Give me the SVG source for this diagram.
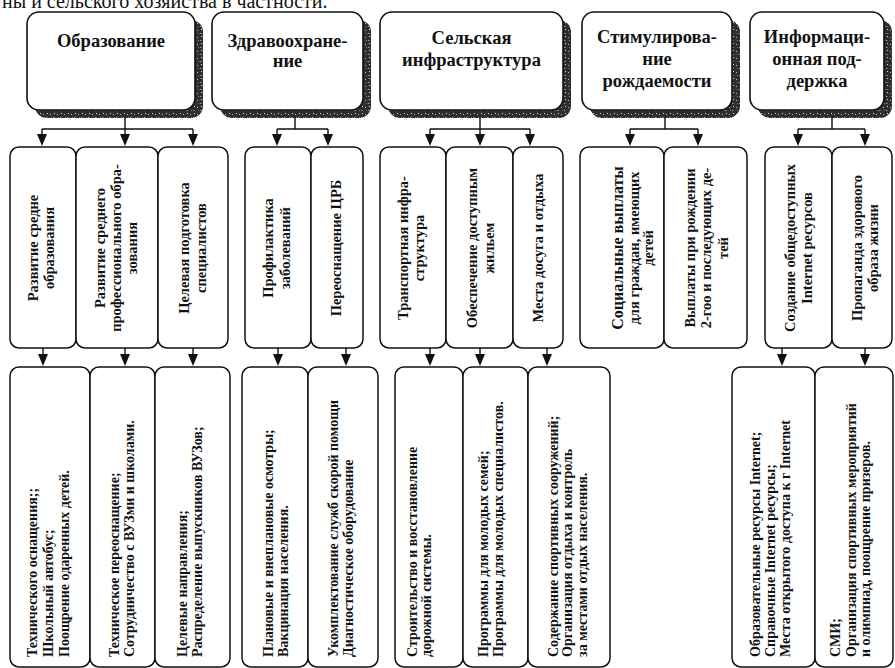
<svg xmlns="http://www.w3.org/2000/svg" width="895" height="668" viewBox="0 0 895 668">
<style>
  text { font-family: "Liberation Serif", "DejaVu Serif", serif; fill: #111; }
  .hdr { font-size: 18.5px; font-weight: bold; text-anchor: middle; }
  .l2 { font-size: 14.5px; font-weight: bold; text-anchor: middle; }
  .l3 { font-size: 14px; font-weight: bold; text-anchor: start; }
  .top { fill: #fff; stroke: #111; stroke-width: 1.6; }
  .shadow { fill: url(#speckle); }
  .box { fill: #fff; stroke: #111; stroke-width: 1.5; }
  .conn line { stroke: #111; stroke-width: 1.4; }
  .conn polygon { fill: #111; }
  .intro { font-size: 20px; }
</style>
<defs>
  <pattern id="speckle" width="7" height="7" patternUnits="userSpaceOnUse">
    <rect width="7" height="7" fill="#2e2e2e"/>
    <rect x="1" y="2" width="1" height="1" fill="#bbb"/>
    <rect x="4" y="5" width="1.5" height="1" fill="#999"/>
    <rect x="5" y="1" width="1" height="1" fill="#ddd"/>
    <rect x="2" y="5" width="1" height="1" fill="#777"/>
  </pattern>
</defs>

<g font-family="Liberation Serif, DejaVu Serif, serif">
<text class="intro" x="2" y="8">ны и сельского хозяйства в частности.</text>

<!-- top-level nodes -->
<g id="t1">
  <rect class="shadow" x="35" y="20" width="168" height="98" rx="12"/>
  <rect class="top" x="27" y="12" width="168" height="98" rx="12"/>
  <text class="hdr" x="111" y="47">Образование</text>
</g>
<g id="t2">
  <rect class="shadow" x="220" y="20" width="151" height="98" rx="12"/>
  <rect class="top" x="212" y="12" width="151" height="98" rx="12"/>
  <text class="hdr" x="287.5" y="47">Здравоохране-</text>
  <text class="hdr" x="287.5" y="67">ние</text>
</g>
<g id="t3">
  <rect class="shadow" x="388" y="20" width="183" height="98" rx="12"/>
  <rect class="top" x="380" y="12" width="183" height="98" rx="12"/>
  <text class="hdr" x="471.5" y="44">Сельская</text>
  <text class="hdr" x="471.5" y="66">инфраструктура</text>
</g>
<g id="t4">
  <rect class="shadow" x="590" y="20" width="150" height="98" rx="12"/>
  <rect class="top" x="582" y="12" width="150" height="98" rx="12"/>
  <text class="hdr" x="657" y="43">Стимулирова-</text>
  <text class="hdr" x="657" y="65">ние</text>
  <text class="hdr" x="657" y="87">рождаемости</text>
</g>
<g id="t5">
  <rect class="shadow" x="758" y="20" width="134" height="98" rx="12"/>
  <rect class="top" x="750" y="12" width="134" height="98" rx="12"/>
  <text class="hdr" x="817" y="43">Информаци-</text>
  <text class="hdr" x="817" y="65">онная под-</text>
  <text class="hdr" x="817" y="87">держка</text>
</g>

<!-- connectors -->
<g id="connectors" class="conn">
  <line x1="125" y1="117" x2="125" y2="129"/>
  <line x1="42" y1="129" x2="193" y2="129"/>
  <line x1="295" y1="117" x2="295" y2="129"/>
  <line x1="277" y1="129" x2="328" y2="129"/>
  <line x1="480" y1="117" x2="480" y2="129"/>
  <line x1="430" y1="129" x2="530" y2="129"/>
  <line x1="665" y1="117" x2="665" y2="129"/>
  <line x1="630" y1="129" x2="698" y2="129"/>
  <line x1="832" y1="117" x2="832" y2="129"/>
  <line x1="798" y1="129" x2="865" y2="129"/>
  <line x1="42" y1="129" x2="42" y2="136"/><polygon points="37,134 47,134 42,146"/>
  <line x1="125" y1="129" x2="125" y2="136"/><polygon points="120,134 130,134 125,146"/>
  <line x1="193" y1="129" x2="193" y2="136"/><polygon points="188,134 198,134 193,146"/>
  <line x1="277" y1="129" x2="277" y2="136"/><polygon points="272,134 282,134 277,146"/>
  <line x1="328" y1="129" x2="328" y2="136"/><polygon points="323,134 333,134 328,146"/>
  <line x1="430" y1="129" x2="430" y2="136"/><polygon points="425,134 435,134 430,146"/>
  <line x1="480" y1="129" x2="480" y2="136"/><polygon points="475,134 485,134 480,146"/>
  <line x1="530" y1="129" x2="530" y2="136"/><polygon points="525,134 535,134 530,146"/>
  <line x1="630" y1="129" x2="630" y2="136"/><polygon points="625,134 635,134 630,146"/>
  <line x1="698" y1="129" x2="698" y2="136"/><polygon points="693,134 703,134 698,146"/>
  <line x1="798" y1="129" x2="798" y2="136"/><polygon points="793,134 803,134 798,146"/>
  <line x1="865" y1="129" x2="865" y2="136"/><polygon points="860,134 870,134 865,146"/>
  <line x1="43" y1="348" x2="43" y2="356"/><polygon points="38,354 48,354 43,366"/>
  <line x1="125" y1="348" x2="125" y2="356"/><polygon points="120,354 130,354 125,366"/>
  <line x1="193" y1="348" x2="193" y2="356"/><polygon points="188,354 198,354 193,366"/>
  <line x1="278" y1="348" x2="278" y2="356"/><polygon points="273,354 283,354 278,366"/>
  <line x1="346" y1="348" x2="346" y2="356"/><polygon points="341,354 351,354 346,366"/>
  <line x1="430" y1="348" x2="430" y2="356"/><polygon points="425,354 435,354 430,366"/>
  <line x1="480" y1="348" x2="480" y2="356"/><polygon points="475,354 485,354 480,366"/>
  <line x1="547" y1="348" x2="547" y2="356"/><polygon points="542,354 552,354 547,366"/>
  <line x1="782" y1="348" x2="782" y2="356"/><polygon points="777,354 787,354 782,366"/>
  <line x1="865" y1="348" x2="865" y2="356"/><polygon points="860,354 870,354 865,366"/>
</g>

<!-- level 2 nodes -->
<g id="n2a"><rect class="box" x="10" y="147" width="66" height="201" rx="9"/>
  <text class="l2" transform="translate(38,248) rotate(-90)">Развитие средне</text>
  <text class="l2" transform="translate(54,248) rotate(-90)">образования</text></g>
<g id="n2b"><rect class="box" x="76" y="147" width="82" height="201" rx="9"/>
  <text class="l2" transform="translate(105,248) rotate(-90)">Развитие среднего</text>
  <text class="l2" transform="translate(121,248) rotate(-90)">профессионального обра-</text>
  <text class="l2" transform="translate(137,248) rotate(-90)">зования</text></g>
<g id="n2c"><rect class="box" x="158" y="147" width="70" height="201" rx="9"/>
  <text class="l2" transform="translate(189,248) rotate(-90)">Целевая подготовка</text>
  <text class="l2" transform="translate(206,248) rotate(-90)">специалистов</text></g>
<g id="n2d"><rect class="box" x="245" y="147" width="66" height="201" rx="9"/>
  <text class="l2" transform="translate(273,248) rotate(-90)">Профилактика</text>
  <text class="l2" transform="translate(290,248) rotate(-90)">заболеваний</text></g>
<g id="n2e"><rect class="box" x="311" y="147" width="52" height="201" rx="9"/>
  <text class="l2" transform="translate(341,248) rotate(-90)">Переоснащение ЦРБ</text></g>
<g id="n2f"><rect class="box" x="380" y="147" width="66" height="201" rx="9"/>
  <text class="l2" transform="translate(408,248) rotate(-90)">Транспортная инфра-</text>
  <text class="l2" transform="translate(424,248) rotate(-90)">структура</text></g>
<g id="n2g"><rect class="box" x="446" y="147" width="67" height="201" rx="9"/>
  <text class="l2" transform="translate(477,248) rotate(-90)">Обеспечение доступным</text>
  <text class="l2" transform="translate(494,248) rotate(-90)">жильем</text></g>
<g id="n2h"><rect class="box" x="513" y="147" width="50" height="201" rx="9"/>
  <text class="l2" transform="translate(543,248) rotate(-90)">Места досуга и отдыха</text></g>
<g id="n2i"><rect class="box" x="580" y="147" width="84" height="201" rx="9"/>
  <text class="l2" transform="translate(623,248) rotate(-90)" style="font-size:16px">Социальные выплаты</text>
  <text class="l2" transform="translate(639,248) rotate(-90)">для граждан, имеющих</text>
  <text class="l2" transform="translate(653,248) rotate(-90)">детей</text></g>
<g id="n2j"><rect class="box" x="664" y="147" width="83" height="201" rx="9"/>
  <text class="l2" transform="translate(695,248) rotate(-90)">Выплаты при рождении</text>
  <text class="l2" transform="translate(711,248) rotate(-90)">2-гоо и последующих де-</text>
  <text class="l2" transform="translate(728,248) rotate(-90)">тей</text></g>
<g id="n2k"><rect class="box" x="765" y="147" width="67" height="201" rx="9"/>
  <text class="l2" transform="translate(795,248) rotate(-90)">Создание общедоступных</text>
  <text class="l2" transform="translate(812,248) rotate(-90)">Internet ресурсов</text></g>
<g id="n2l"><rect class="box" x="832" y="147" width="60" height="201" rx="9"/>
  <text class="l2" transform="translate(862,248) rotate(-90)">Пропаганда здорового</text>
  <text class="l2" transform="translate(878,248) rotate(-90)">образа жизни</text></g>

<!-- level 3 nodes -->
<g id="n3a"><rect class="box" x="10" y="367" width="80" height="300" rx="9"/>
  <text class="l3" transform="translate(37,657) rotate(-90)">Технического оснащения;;</text>
  <text class="l3" transform="translate(53,657) rotate(-90)">Школьный автобус;</text>
  <text class="l3" transform="translate(69,657) rotate(-90)">Поощрение одаренных детей.</text></g>
<g id="n3b"><rect class="box" x="90" y="367" width="65" height="300" rx="9"/>
  <text class="l3" transform="translate(119,657) rotate(-90)">Техническое переоснащение;</text>
  <text class="l3" transform="translate(134,657) rotate(-90)">Сотрудничество с ВУЗми и школами.</text></g>
<g id="n3c"><rect class="box" x="155" y="367" width="75" height="300" rx="9"/>
  <text class="l3" transform="translate(187,657) rotate(-90)">Целевые направления;</text>
  <text class="l3" transform="translate(202,657) rotate(-90)">Распределение выпускников ВУЗов;</text></g>
<g id="n3d"><rect class="box" x="242" y="367" width="66" height="300" rx="9"/>
  <text class="l3" transform="translate(273,657) rotate(-90)">Плановые и внеплановые осмотры;</text>
  <text class="l3" transform="translate(288,657) rotate(-90)">Вакцинация населения.</text></g>
<g id="n3e"><rect class="box" x="308" y="367" width="70" height="300" rx="9"/>
  <text class="l3" transform="translate(338,657) rotate(-90)">Укомплектование служб скорой помощи</text>
  <text class="l3" transform="translate(353,657) rotate(-90)">Диагностическое оборудование</text></g>
<g id="n3f"><rect class="box" x="395" y="367" width="68" height="300" rx="9"/>
  <text class="l3" transform="translate(417,657) rotate(-90)">Строительство и восстановление</text>
  <text class="l3" transform="translate(431,657) rotate(-90)">дорожной системы.</text></g>
<g id="n3g"><rect class="box" x="463" y="367" width="65" height="300" rx="9"/>
  <text class="l3" transform="translate(488,657) rotate(-90)">Программы для молодых семей;</text>
  <text class="l3" transform="translate(503,657) rotate(-90)">Программы для молодых специалистов.</text></g>
<g id="n3h"><rect class="box" x="528" y="367" width="82" height="300" rx="9"/>
  <text class="l3" transform="translate(558,657) rotate(-90)">Содержание спортивных сооружений;</text>
  <text class="l3" transform="translate(572,657) rotate(-90)">Организация отдыха и контроль</text>
  <text class="l3" transform="translate(587,657) rotate(-90)">за местами отдых населения.</text></g>
<g id="n3i"><rect class="box" x="732" y="367" width="83" height="300" rx="9"/>
  <text class="l3" transform="translate(760,657) rotate(-90)">Образовательные ресурсы Internet;</text>
  <text class="l3" transform="translate(775,657) rotate(-90)">Справочные Internet ресурсы;</text>
  <text class="l3" transform="translate(790,657) rotate(-90)">Места открытого доступа к г Internet</text></g>
<g id="n3j"><rect class="box" x="815" y="367" width="78" height="300" rx="9"/>
  <text class="l3" transform="translate(840,657) rotate(-90)">СМИ;</text>
  <text class="l3" transform="translate(856,657) rotate(-90)">Организация спортивных мероприятий</text>
  <text class="l3" transform="translate(870,657) rotate(-90)">и олимпиад, поощрение призеров.</text></g>
</g>
</svg>
